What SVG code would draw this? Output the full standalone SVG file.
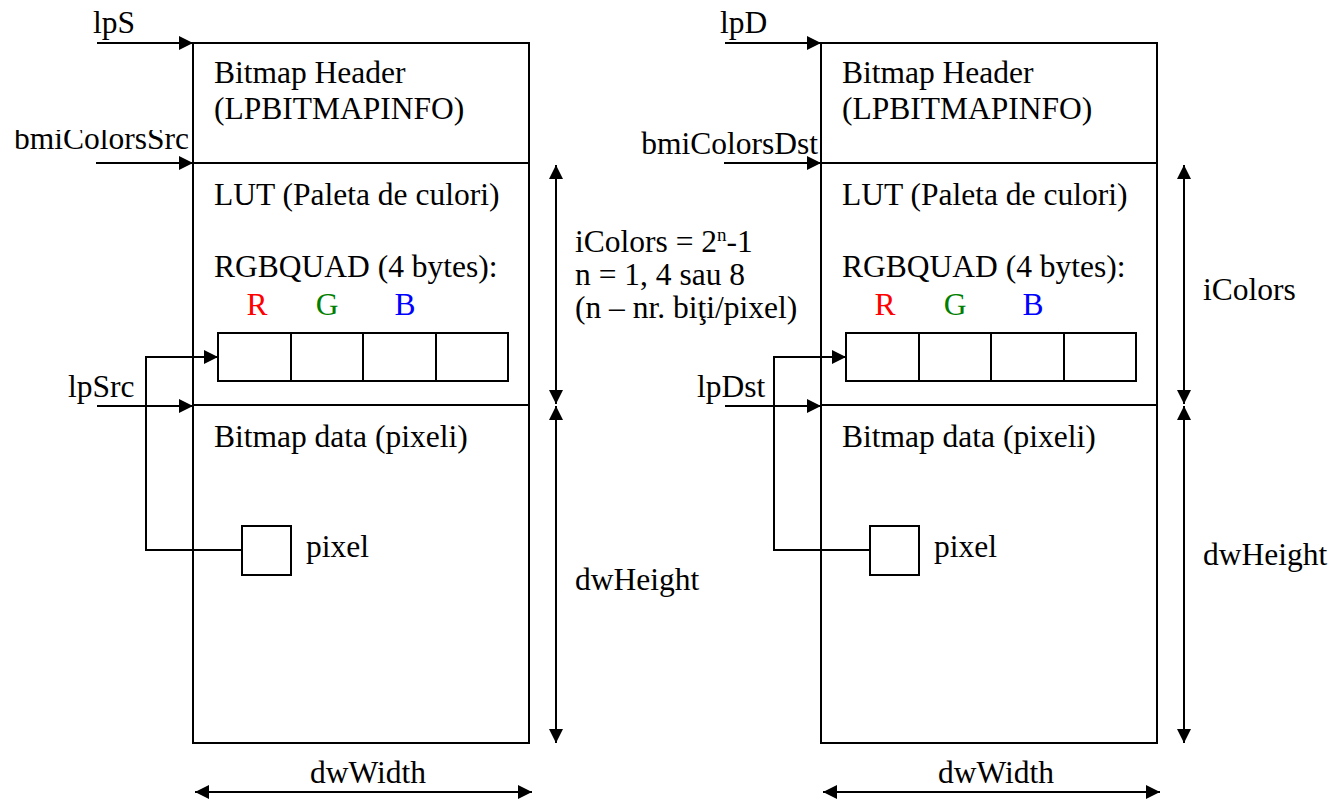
<svg xmlns="http://www.w3.org/2000/svg" width="1343" height="800" viewBox="0 0 1343 800">
<defs>
<marker id="ah" viewBox="0 0 14 14" refX="14" refY="7" markerWidth="14" markerHeight="14" markerUnits="userSpaceOnUse" orient="auto-start-reverse"><path d="M0,0 L14,7 L0,14 Z" fill="#000"/></marker>
<clipPath id="cut"><rect x="0" y="130" width="200" height="40"/></clipPath>
<style>
text{font-family:"Liberation Serif","Times New Roman",serif;font-size:31.5px;fill:#000}
.r{fill:#f00}
.g{fill:#008000}
.b{fill:#00f}
.box{fill:#fff;stroke:#000;stroke-width:2}
.ln{fill:none;stroke:#000;stroke-width:2}
.arr{fill:none;stroke:#000;stroke-width:2;marker-end:url(#ah)}
.dbl{fill:none;stroke:#000;stroke-width:2;marker-start:url(#ah);marker-end:url(#ah)}
</style>
</defs>
<rect width="1343" height="800" fill="#fff"/>
<g id="src">
<rect class="box" x="193" y="43" width="336" height="700"/>
<line class="ln" x1="193" y1="163" x2="529" y2="163"/>
<line class="ln" x1="193" y1="405" x2="529" y2="405"/>
<text x="214" y="83">Bitmap Header</text>
<text x="214" y="119">(LPBITMAPINFO)</text>
<text x="214" y="205">LUT (Paleta de culori)</text>
<text x="214" y="277">RGBQUAD (4 bytes):</text>
<text x="257" y="315" class="r" text-anchor="middle">R</text>
<text x="327" y="315" class="g" text-anchor="middle">G</text>
<text x="405" y="315" class="b" text-anchor="middle">B</text>
<rect class="box" x="218" y="333" width="290" height="48"/>
<line class="ln" x1="291" y1="333" x2="291" y2="381"/>
<line class="ln" x1="363" y1="333" x2="363" y2="381"/>
<line class="ln" x1="436" y1="333" x2="436" y2="381"/>
<text x="214" y="447">Bitmap data (pixeli)</text>
<rect class="box" x="242" y="526" width="49" height="49"/>
<text x="306" y="557">pixel</text>
</g>
<g id="dst">
<rect class="box" x="821" y="43" width="336" height="700"/>
<line class="ln" x1="821" y1="163" x2="1157" y2="163"/>
<line class="ln" x1="821" y1="405" x2="1157" y2="405"/>
<text x="842" y="83">Bitmap Header</text>
<text x="842" y="119">(LPBITMAPINFO)</text>
<text x="842" y="205">LUT (Paleta de culori)</text>
<text x="842" y="277">RGBQUAD (4 bytes):</text>
<text x="885" y="315" class="r" text-anchor="middle">R</text>
<text x="955" y="315" class="g" text-anchor="middle">G</text>
<text x="1033" y="315" class="b" text-anchor="middle">B</text>
<rect class="box" x="846" y="333" width="290" height="48"/>
<line class="ln" x1="919" y1="333" x2="919" y2="381"/>
<line class="ln" x1="991" y1="333" x2="991" y2="381"/>
<line class="ln" x1="1064" y1="333" x2="1064" y2="381"/>
<text x="842" y="447">Bitmap data (pixeli)</text>
<rect class="box" x="870" y="526" width="49" height="49"/>
<text x="934" y="557">pixel</text>
</g>
<g id="labels">
<text x="93" y="33">lpS</text>
<text x="189" y="149" text-anchor="end" clip-path="url(#cut)">bmiColorsSrc</text>
<text x="68" y="397">lpSrc</text>
<text x="575" y="252">iColors = 2<tspan dy="-11" font-size="19">n</tspan><tspan dy="11">-1</tspan></text>
<text x="575" y="285">n = 1, 4 sau 8</text>
<text x="575" y="318">(n – nr. biţi/pixel)</text>
<text x="575" y="590">dwHeight</text>
<text x="368" y="783" text-anchor="middle">dwWidth</text>
<text x="720" y="33">lpD</text>
<text x="818" y="154" text-anchor="end">bmiColorsDst</text>
<text x="697" y="397">lpDst</text>
<text x="1203" y="300">iColors</text>
<text x="1203" y="565">dwHeight</text>
<text x="996" y="783" text-anchor="middle">dwWidth</text>
</g>
<g id="connectors">
<line class="arr" x1="97" y1="43" x2="193" y2="43"/>
<line class="arr" x1="96" y1="163" x2="193" y2="163"/>
<line class="arr" x1="97" y1="406" x2="193" y2="406"/>
<polyline class="arr" points="242,550 146,550 146,357 218,357"/>
<line class="dbl" x1="556" y1="165" x2="556" y2="404"/>
<line class="dbl" x1="556" y1="406" x2="556" y2="743"/>
<line class="dbl" x1="195" y1="792" x2="532" y2="792"/>
<line class="arr" x1="725" y1="43" x2="821" y2="43"/>
<line class="arr" x1="724" y1="163" x2="821" y2="163"/>
<line class="arr" x1="725" y1="406" x2="821" y2="406"/>
<polyline class="arr" points="870,550 774,550 774,357 846,357"/>
<line class="dbl" x1="1184" y1="165" x2="1184" y2="404"/>
<line class="dbl" x1="1184" y1="406" x2="1184" y2="743"/>
<line class="dbl" x1="823" y1="792" x2="1160" y2="792"/>
</g>
</svg>
